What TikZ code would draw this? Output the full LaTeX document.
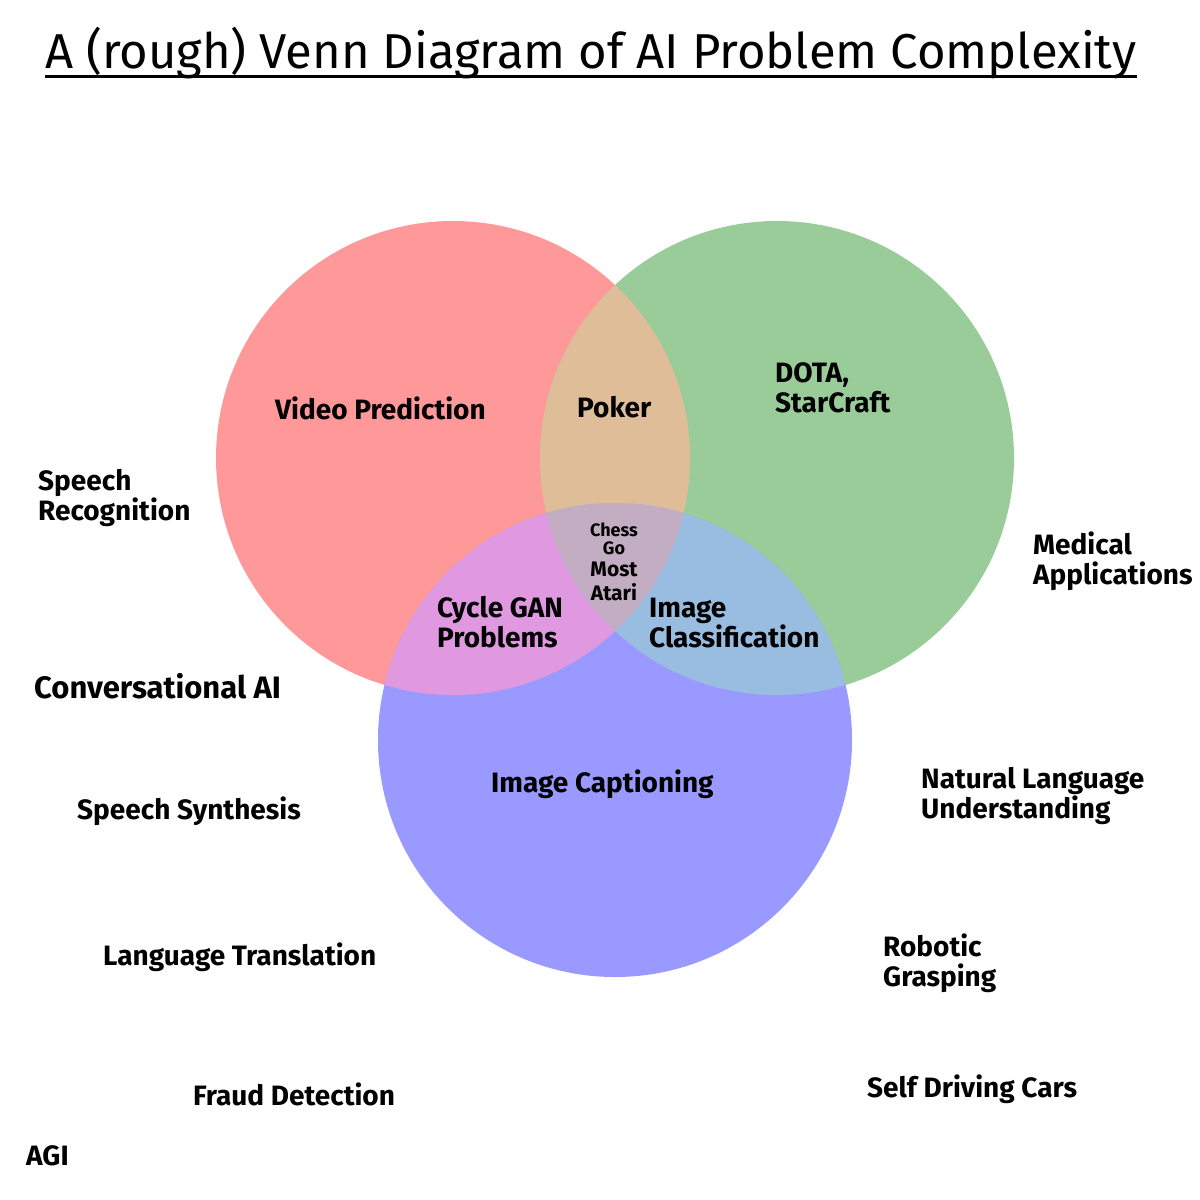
\documentclass[tikz,border=0pt]{standalone}
\usepackage{fontspec}
\setmainfont{Fira Sans}
\newfontfamily\titlefont{Fira Sans}
\definecolor{cR}{RGB}{255,153,153}
\definecolor{cG}{RGB}{153,204,153}
\definecolor{cB}{RGB}{153,153,255}
\definecolor{cRG}{RGB}{224,189,153}
\definecolor{cRB}{RGB}{224,153,224}
\definecolor{cGB}{RGB}{153,189,224}
\definecolor{cRGB}{RGB}{194,173,194}
\begin{document}
\begin{tikzpicture}[x=1pt,y=-1pt,
  lab/.style={font=\bfseries\fontsize{28}{29.5}\selectfont, inner sep=0pt, anchor=base west, align=left},
  biglab/.style={lab, font=\bfseries\fontsize{31}{33}\selectfont},
  smalllab/.style={font=\bfseries\fontsize{18}{18}\selectfont, inner sep=0pt, anchor=base, align=center},
  midlab/.style={font=\bfseries\fontsize{21}{24}\selectfont, inner sep=0pt, anchor=base, align=center}]
\useasboundingbox (0,0) rectangle (1200,1200);
\fill[white] (0,0) rectangle (1200,1200);
% title
\node[font=\titlefont\fontsize{49}{56}\selectfont, inner sep=0pt, anchor=base west] (title) at (45,68) {A (rough) Venn Diagram of AI Problem Complexity};
\draw[line width=3pt] (title.base west) ++(0,8) coordinate (ulA) -- (ulA -| title.base east);
% circles
\fill[cR] (453,458) circle[radius=237pt];
\fill[cG] (777,458) circle[radius=237pt];
\fill[cB] (615,740) circle[radius=237pt];
\begin{scope}
  \clip (453,458) circle[radius=237pt];
  \fill[cRG] (777,458) circle[radius=237pt];
  \fill[cRB] (615,740) circle[radius=237pt];
\end{scope}
\begin{scope}
  \clip (777,458) circle[radius=237pt];
  \fill[cGB] (615,740) circle[radius=237pt];
\end{scope}
\begin{scope}
  \clip (453,458) circle[radius=237pt];
  \clip (777,458) circle[radius=237pt];
  \fill[cRGB] (615,740) circle[radius=237pt];
\end{scope}
% region labels
\node[lab] (vp) at (275,419) {Video Prediction};
\node[lab] (pk) at (577,417) {Poker};
\node[lab] (dota) at (775,412) {DOTA,\\StarCraft};
\node[smalllab] (chess) at (614,554) {Chess\\Go};
\node[midlab] (atari) at (614,600) {Most\\Atari};
\node[lab] (cg) at (437,647) {Cycle GAN\\Problems};
\node[lab] (ic) at (649,647) {Image\\Classification};
\node[lab] (cap) at (491,792) {Image Captioning};
% outside labels
\node[lab] (sr) at (38,520) {Speech\\Recognition};
\node[biglab] (cai) at (34,698) {Conversational AI};
\node[lab] (ss) at (77,819) {Speech Synthesis};
\node[lab] (lt) at (103,965) {Language Translation};
\node[lab] (fd) at (193,1105) {Fraud Detection};
\node[lab] (agi) at (26,1165) {AGI};
\node[lab] (med) at (1033,584) {Medical\\Applications};
\node[lab] (nlu) at (921,818) {Natural Language\\Understanding};
\node[lab] (rg) at (883,986) {Robotic\\Grasping};
\node[lab] (sdc) at (867,1097) {Self Driving Cars};
\end{tikzpicture}
\end{document}
